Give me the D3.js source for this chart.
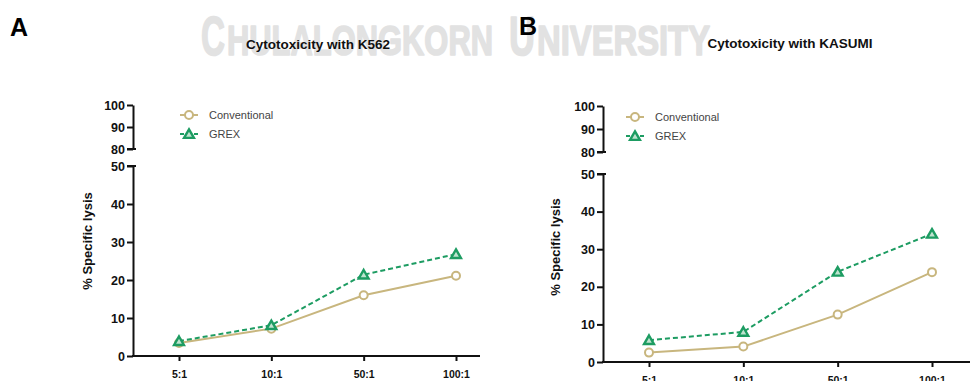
<!DOCTYPE html>
<html><head><meta charset="utf-8">
<script src="https://cdn.jsdelivr.net/npm/d3@7"></script>
<style>body{margin:0;background:#fff}svg{display:block}</style>
</head><body>
<svg id="c" width="971" height="381"></svg>
<script>
const categories = ["5:1","10:1","50:1","100:1"];
const k562Conventional = [3.4, 7.2, 16.0, 21.1];
const k562Grex = [3.9, 8.1, 21.4, 26.8];
const kasumiConventional = [2.5, 4.1, 12.6, 23.9];
const kasumiGrex = [5.8, 8.0, 24.0, 34.1];
const lowerTicks = [0,10,20,30,40,50];
const upperTicks = [80,90,100];
const seriesNames = ["Conventional","GREX"];
const colors = {Conventional:"#c8b67e", GREX:"#1d9c62"};

const svg = d3.select("#c");
const font = "Liberation Sans, Arial, sans-serif";

// watermark
const wmParts = [
  {t:"C", x:201, size:56, len:24},
  {t:"HULALONGKORN", x:227, size:42, len:266},
  {t:"U", x:509, size:56, len:26},
  {t:"NIVERSITY", x:537, size:42, len:173}
];
wmParts.forEach(p=>{
  svg.append("text").attr("x",p.x).attr("y",55).attr("fill","#e2e2e2")
    .attr("stroke","#e2e2e2").attr("stroke-width",1.6).attr("stroke-linejoin","round")
    .attr("font-family","Liberation Sans Narrow, Arial Narrow, sans-serif").attr("font-weight","bold")
    .attr("font-size",p.size).attr("textLength",p.len).attr("lengthAdjust","spacingAndGlyphs").text(p.t);
});

function panel(o){
  const g = svg.append("g");
  g.append("text").attr("x",o.letterX).attr("y",o.letterY).text(o.letter)
    .attr("font-family",font).attr("font-weight","bold").attr("font-size",25).attr("fill","#000");
  g.append("text").attr("x",o.titleX).attr("y",o.titleY).attr("text-anchor","middle").text(o.title)
    .attr("font-family",font).attr("font-weight","bold").attr("font-size",13.5).attr("fill","#111");

  const x = d3.scalePoint().domain(categories).range(o.xRange);
  const yL = d3.scaleLinear().domain([0,50]).range(o.yLower);
  const yU = d3.scaleLinear().domain([80,100]).range(o.yUpper);

  const style = sel => {
    sel.select(".domain").attr("stroke","#111").attr("stroke-width",2);
    sel.selectAll(".tick line").attr("stroke","#111").attr("stroke-width",2);
    sel.selectAll(".tick text").attr("font-family",font).attr("font-weight","bold").attr("fill","#111");
  };

  const gl = g.append("g").attr("transform",`translate(${o.ax},0)`)
    .call(d3.axisLeft(yL).tickValues(lowerTicks).tickSize(6).tickSizeOuter(0).tickPadding(2));
  style(gl); gl.selectAll(".tick text").attr("font-size",12.5);
  g.append("line").attr("x1",o.ax-6).attr("x2",o.ax+3).attr("y1",yL(50)).attr("y2",yL(50)).attr("stroke","#111").attr("stroke-width",2);

  const gu = g.append("g").attr("transform",`translate(${o.ax},0)`)
    .call(d3.axisLeft(yU).tickValues(upperTicks).tickSize(6).tickSizeOuter(0).tickPadding(2));
  style(gu); gu.selectAll(".tick text").attr("font-size",12.5);
  g.append("line").attr("x1",o.ax-6).attr("x2",o.ax+3).attr("y1",yU(80)).attr("y2",yU(80)).attr("stroke","#111").attr("stroke-width",2);

  const gx = g.append("g").attr("transform",`translate(0,${yL(0)})`)
    .call(d3.axisBottom(x).tickSize(5).tickSizeOuter(0).tickPadding(10));
  style(gx); gx.selectAll(".tick text").attr("font-size",10.5);
  gx.select(".domain").remove();
  gx.append("line").attr("x1",o.ax-1).attr("x2",o.axEnd).attr("y1",0).attr("y2",0).attr("stroke","#111").attr("stroke-width",2);

  g.append("text").attr("transform",`translate(${o.ylabX},${o.ylabY}) rotate(-90)`)
    .attr("text-anchor","middle").text("% Specific lysis")
    .attr("font-family",font).attr("font-weight","bold").attr("font-size",13).attr("fill","#111");

  const line = d3.line().x((d,i)=>x(categories[i])).y(d=>yL(d));
  const tri = d3.symbol().type(d3.symbolTriangle).size(42);

  g.append("path").datum(o.conv).attr("d",line).attr("fill","none")
    .attr("stroke",colors.Conventional).attr("stroke-width",2);
  g.selectAll(".cm").data(o.conv).join("circle").attr("cx",(d,i)=>x(categories[i])).attr("cy",d=>yL(d))
    .attr("r",4).attr("fill","#fff").attr("stroke",colors.Conventional).attr("stroke-width",2);
  g.append("path").datum(o.grex).attr("d",line).attr("fill","none")
    .attr("stroke",colors.GREX).attr("stroke-width",2).attr("stroke-dasharray","5,3");
  g.selectAll(".gm").data(o.grex).join("path").attr("d",tri)
    .attr("transform",(d,i)=>`translate(${x(categories[i])},${yL(d)+1})`)
    .attr("fill","#bfe3cf").attr("stroke",colors.GREX).attr("stroke-width",2.4);

  seriesNames.forEach((s,i)=>{
    const ly = o.legY + i*19;
    const lg = g.append("g");
    lg.append("line").attr("x1",o.legX).attr("x2",o.legX+18).attr("y1",ly).attr("y2",ly)
      .attr("stroke",colors[s]).attr("stroke-width",2).attr("stroke-dasharray", s==="GREX"?"4,3":null);
    if(s==="Conventional"){
      lg.append("circle").attr("cx",o.legX+9).attr("cy",ly).attr("r",4).attr("fill","#fff")
        .attr("stroke",colors[s]).attr("stroke-width",2);
    } else {
      lg.append("path").attr("d",tri).attr("transform",`translate(${o.legX+9},${ly+1})`)
        .attr("fill","#bfe3cf").attr("stroke",colors[s]).attr("stroke-width",2.4);
    }
    lg.append("text").attr("x",o.legX+29).attr("y",ly+4).text(s)
      .attr("font-family",font).attr("font-size",11).attr("fill","#444");
  });
}

panel({letter:"A",letterX:10,letterY:36,title:"Cytotoxicity with K562",titleX:318,titleY:49,
  ax:133,axEnd:480,xRange:[179,456],yLower:[356,166],yUpper:[149,105],
  ylabX:92,ylabY:241,legX:180,legY:115,conv:k562Conventional,grex:k562Grex});
panel({letter:"B",letterX:519,letterY:35,title:"Cytotoxicity with KASUMI",titleX:790,titleY:48,
  ax:603,axEnd:970,xRange:[649,932],yLower:[362,174],yUpper:[152,106],
  ylabX:560,ylabY:247,legX:626,legY:117,conv:kasumiConventional,grex:kasumiGrex});
</script>
</body></html>
